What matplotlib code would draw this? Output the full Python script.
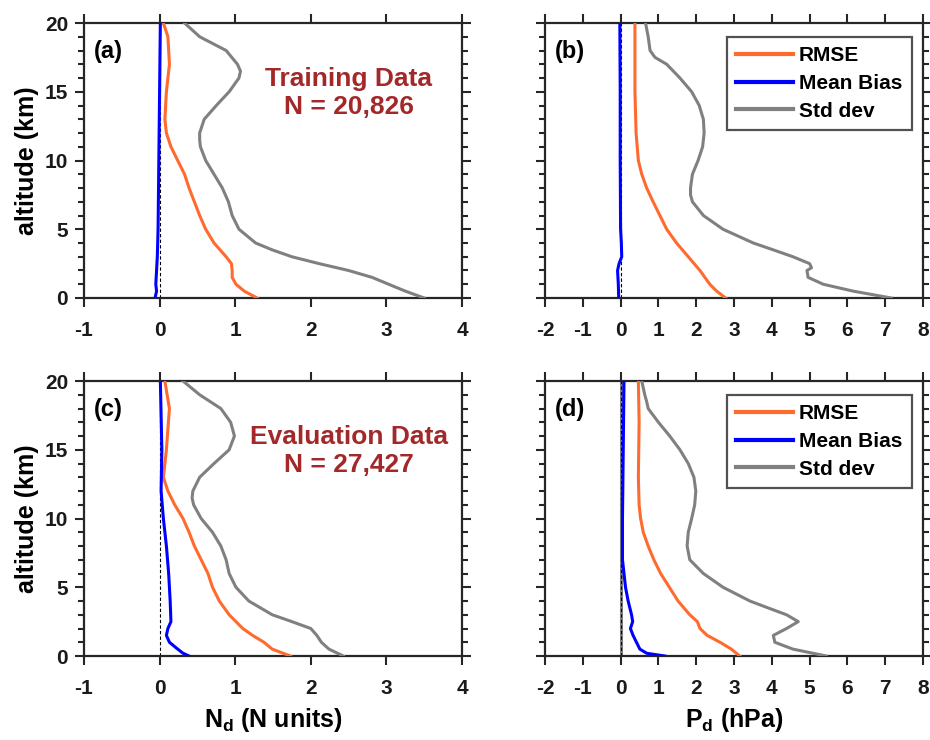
import matplotlib
matplotlib.use("Agg")
import matplotlib.pyplot as plt
from matplotlib.ticker import MultipleLocator

plt.rcParams['font.family'] = ['Liberation Sans', 'DejaVu Sans']
plt.rcParams['font.weight'] = 'bold'
plt.rcParams['axes.unicode_minus'] = False
plt.rcParams['mathtext.fontset'] = 'custom'
plt.rcParams['mathtext.bf'] = 'Liberation Sans:bold'
plt.rcParams['mathtext.rm'] = 'Liberation Sans:bold'

# ---------------- data ----------------
# Panel (a): N_d, training
a_std_alt = [20, 19, 18, 17, 16.5, 16, 15, 14, 13, 12, 11.5, 11, 10, 9, 8, 7, 6, 5, 4, 3.5, 3, 2.5, 2, 1.5, 1, 0.5, 0]
a_std_val = [0.33, 0.53, 0.88, 1.03, 1.07, 1.05, 0.92, 0.75, 0.59, 0.53, 0.53, 0.54, 0.61, 0.72, 0.83, 0.91, 0.96, 1.05, 1.27, 1.49, 1.75, 2.11, 2.50, 2.81, 3.03, 3.25, 3.50]
a_rmse_alt = [20, 19, 17, 15, 13, 12, 11, 10, 9, 8, 7, 6, 5, 4, 3, 2.5, 2, 1.5, 1, 0.5, 0]
a_rmse_val = [0.05, 0.11, 0.13, 0.09, 0.07, 0.09, 0.15, 0.24, 0.33, 0.39, 0.46, 0.53, 0.61, 0.72, 0.88, 0.95, 0.96, 0.96, 1.01, 1.12, 1.29]
a_bias_alt = [20, 15, 10, 5, 3, 2, 1, 0.5, 0]
a_bias_val = [0.01, 0.0, -0.01, -0.02, -0.03, -0.04, -0.05, -0.04, -0.06]

# Panel (b): P_d, training
b_std_alt = [20, 19, 18, 17.5, 17, 16, 15, 14, 13, 12, 11, 10, 9, 8, 7.5, 7, 6, 5, 4, 3.5, 3, 2.5, 2.2, 2, 1.5, 1, 0.5, 0]
b_std_val = [0.66, 0.73, 0.78, 0.91, 1.22, 1.57, 1.88, 2.08, 2.19, 2.21, 2.17, 2.05, 1.90, 1.85, 1.85, 1.90, 2.19, 2.71, 3.51, 4.04, 4.56, 5.00, 5.05, 4.93, 4.96, 5.36, 6.15, 7.16]
b_rmse_alt = [20, 15, 12, 10, 9, 8, 7, 6, 5, 4, 3, 2, 1, 0.5, 0]
b_rmse_val = [0.38, 0.38, 0.41, 0.47, 0.56, 0.69, 0.86, 1.04, 1.22, 1.48, 1.79, 2.10, 2.36, 2.54, 2.78]
b_bias_alt = [20, 15, 10, 5, 4, 3, 2.5, 2, 1.5, 1, 0]
b_bias_val = [-0.02, -0.01, -0.01, 0.0, 0.02, 0.03, -0.04, -0.08, -0.07, -0.06, -0.05]

# Panel (c): N_d, evaluation
c_std_alt = [20, 19, 18, 17, 16, 15, 14, 13, 12, 11.5, 11, 10, 9, 8, 7, 6, 5, 4, 3, 2.5, 2, 1.5, 1, 0.5, 0]
c_std_val = [0.31, 0.53, 0.81, 0.94, 0.99, 0.92, 0.72, 0.53, 0.44, 0.43, 0.45, 0.55, 0.70, 0.81, 0.88, 0.92, 1.01, 1.18, 1.49, 1.75, 2.00, 2.08, 2.14, 2.24, 2.43]
c_rmse_alt = [20, 18, 15, 13, 12, 11, 10, 9, 8, 7, 6, 5, 4, 3, 2, 1.5, 1, 0.5, 0]
c_rmse_val = [0.07, 0.13, 0.09, 0.05, 0.11, 0.20, 0.31, 0.39, 0.46, 0.55, 0.64, 0.70, 0.79, 0.92, 1.10, 1.23, 1.38, 1.49, 1.73]
c_bias_alt = [20, 15, 12, 10, 8, 6, 4, 2.5, 2, 1.5, 1, 0.5, 0.2, 0]
c_bias_val = [0.01, 0.03, 0.02, 0.05, 0.09, 0.12, 0.14, 0.15, 0.11, 0.09, 0.13, 0.24, 0.31, 0.39]

# Panel (d): P_d, evaluation
d_std_alt = [20, 19, 18.5, 18, 17, 16, 15, 14, 13, 12, 11, 10, 9, 8, 7, 6, 5, 4, 3.5, 3, 2.5, 2, 1.5, 1, 0.5, 0]
d_std_val = [0.56, 0.64, 0.69, 0.73, 1.00, 1.30, 1.57, 1.79, 1.94, 1.99, 1.96, 1.88, 1.79, 1.76, 1.83, 2.19, 2.71, 3.42, 3.90, 4.39, 4.70, 4.39, 4.04, 4.08, 4.56, 5.44]
d_rmse_alt = [20, 17, 13, 11, 10, 9, 8, 7, 6, 5, 4, 3, 2.5, 2, 1.5, 1, 0.5, 0]
d_rmse_val = [0.47, 0.49, 0.47, 0.49, 0.53, 0.60, 0.73, 0.88, 1.06, 1.29, 1.52, 1.83, 2.03, 2.10, 2.29, 2.63, 2.93, 3.15]
d_bias_alt = [20, 15, 10, 7, 6, 5, 4, 3, 2.5, 2, 1.5, 1, 0.5, 0.2, 0]
d_bias_val = [0.09, 0.07, 0.05, 0.05, 0.09, 0.13, 0.20, 0.29, 0.32, 0.26, 0.33, 0.42, 0.51, 0.69, 1.17]

panel_labels = ['(a)', '(b)', '(c)', '(d)']
annot_texts = ['Training Data\nN = 20,826', None, 'Evaluation Data\nN = 27,427', None]
legend_labels = ['RMSE', 'Mean Bias', 'Std dev']
y_label = 'altitude (km)'
x_labels = [r'N$_\mathbf{d}$ (N units)', r'P$_\mathbf{d}$ (hPa)']
x_ranges = [(-1, 4), (-2, 8)]

# ---------------- style ----------------
C_RMSE = '#FF6A2E'
C_BIAS = '#0000FF'
C_STD = '#808080'
C_TXT = '#A2282A'
C_AX = '#262626'
LW = 2.2

fig = plt.figure(figsize=(9.3, 7.4), dpi=100)
W = 0.4065
H = 0.3716
lefts = [0.0903, 0.586]
bottoms = [0.5973, 0.1135]

panels = [
    (a_rmse_alt, a_rmse_val, a_bias_alt, a_bias_val, a_std_alt, a_std_val),
    (b_rmse_alt, b_rmse_val, b_bias_alt, b_bias_val, b_std_alt, b_std_val),
    (c_rmse_alt, c_rmse_val, c_bias_alt, c_bias_val, c_std_alt, c_std_val),
    (d_rmse_alt, d_rmse_val, d_bias_alt, d_bias_val, d_std_alt, d_std_val),
]

for i, p in enumerate(panels):
    row, col = divmod(i, 2)
    ax = fig.add_axes([lefts[col], bottoms[row], W, H])
    ra, rv, ba, bv, sa, sv = p
    if i == 3:
        ax.plot([0, 0], [0, 20], color=C_STD, lw=2.2, zorder=1)
    ax.plot([0, 0], [0, 20], color='black', lw=0.8, ls=(0, (3, 2)), zorder=2)
    l1, = ax.plot(rv, ra, color=C_RMSE, lw=LW, label=legend_labels[0], zorder=3)
    l2, = ax.plot(bv, ba, color=C_BIAS, lw=LW, label=legend_labels[1], zorder=4)
    l3, = ax.plot(sv, sa, color=C_STD, lw=LW, label=legend_labels[2], zorder=3)

    xr = x_ranges[col]
    ax.set_xlim(*xr)
    ax.set_ylim(0, 20)
    ax.xaxis.set_major_locator(MultipleLocator(1))
    ax.yaxis.set_major_locator(MultipleLocator(5))
    ax.yaxis.set_minor_locator(MultipleLocator(1))
    ax.tick_params(axis='x', which='major', direction='out', length=6.5, width=1.5,
                   labelsize=15, colors=C_AX, top=True, pad=10)
    ax.tick_params(axis='y', which='major', direction='out', length=6.5, width=1.5,
                   labelsize=15, colors=C_AX, right=True, pad=5)
    ax.tick_params(axis='y', which='minor', direction='out', length=4, width=1.5,
                   left=True, right=True, colors=C_AX)
    for lab in ax.get_xticklabels() + ax.get_yticklabels():
        lab.set_fontweight('bold')
        lab.set_color('#1a1a1a')
    for s in ax.spines.values():
        s.set_linewidth(1.6)
        s.set_color(C_AX)
    if col == 1:
        ax.set_yticklabels([])
    else:
        ax.set_ylabel(y_label, fontsize=18, fontweight='bold', labelpad=4)
    if row == 1:
        ax.set_xlabel(x_labels[col], fontsize=18, fontweight='bold', labelpad=6)

    ax.text(0.025, 0.895, panel_labels[i], transform=ax.transAxes, fontsize=17,
            fontweight='bold', ha='left', va='center', color='black')
    if annot_texts[i]:
        ax.text(2.5, 14.9, annot_texts[i], fontsize=19, fontweight='bold', color=C_TXT,
                ha='center', va='center', linespacing=1.2)
    if col == 1:
        leg = ax.legend(handles=[l1, l2, l3], loc='upper right', fontsize=15,
                        frameon=True, fancybox=False, handlelength=2.7,
                        borderpad=0.45, labelspacing=0.42, handletextpad=0.3,
                        borderaxespad=0.0, bbox_to_anchor=(0.97, 0.95))
        leg.get_frame().set_edgecolor(C_AX)
        leg.get_frame().set_linewidth(1.6)
        for t in leg.get_texts():
            t.set_fontweight('bold')
        for h in leg.get_lines():
            h.set_linewidth(3)

fig.savefig('out.png', dpi=100)
